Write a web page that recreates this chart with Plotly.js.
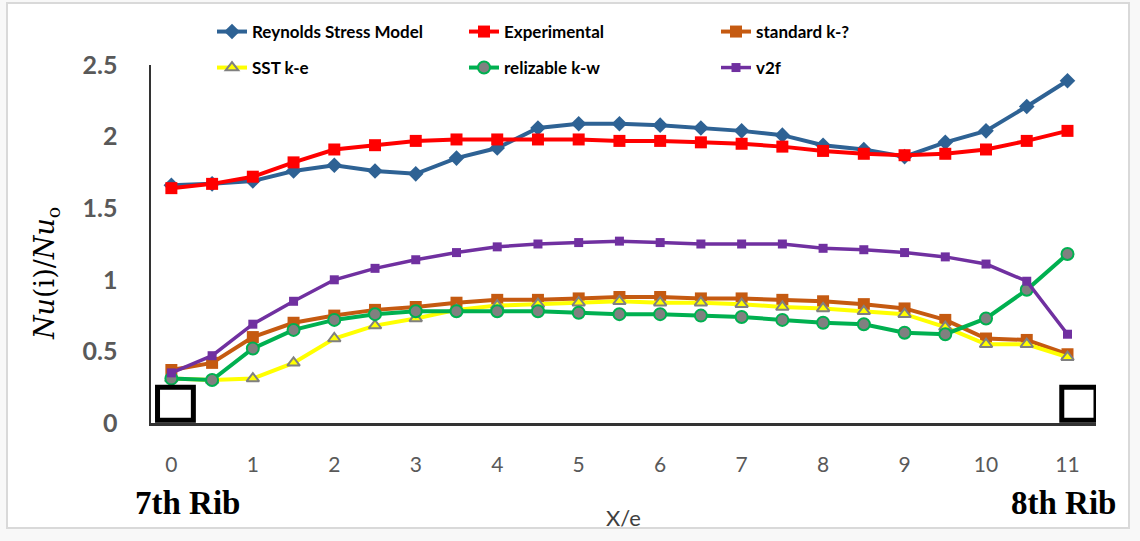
<!DOCTYPE html>
<html>
<head>
<meta charset="utf-8">
<script src="https://cdn.plot.ly/plotly-3.0.1.min.js"></script>
<style>
  html, body { margin:0; padding:0; background:#f8f8f8; }
  #frame { position:absolute; left:6px; top:2px; width:1120px; height:523px; border:2px solid #d9d9d9; background:#ffffff; }
  #plot { position:absolute; left:0; top:0; width:1140px; height:541px; }
</style>
</head>
<body>
<div id="frame"></div>
<div id="plot"></div>
<script>
// X/e positions
const xe = [0,0.5,1,1.5,2,2.5,3,3.5,4,4.5,5,5.5,6,6.5,7,7.5,8,8.5,9,9.5,10,10.5,11];
const xTicks = [0,1,2,3,4,5,6,7,8,9,10,11];
const yTicks = [0,0.5,1,1.5,2,2.5];

const seriesNames = ['Reynolds Stress Model','Experimental','standard k-?','SST k-e','relizable k-w','v2f'];

const rsm = [1.66,1.67,1.69,1.76,1.80,1.76,1.74,1.85,1.92,2.06,2.09,2.09,2.08,2.06,2.04,2.01,1.94,1.91,1.86,1.96,2.04,2.21,2.39];
const experimental = [1.64,1.67,1.72,1.82,1.91,1.94,1.97,1.98,1.98,1.98,1.98,1.97,1.97,1.96,1.95,1.93,1.90,1.88,1.87,1.88,1.91,1.97,2.04];
const standardK = [0.37,0.42,0.60,0.70,0.75,0.79,0.81,0.84,0.86,0.86,0.87,0.88,0.88,0.87,0.87,0.86,0.85,0.83,0.80,0.72,0.59,0.58,0.48];
const sstKe = [0.31,0.30,0.31,0.42,0.59,0.68,0.73,0.79,0.82,0.83,0.84,0.85,0.84,0.84,0.83,0.81,0.80,0.78,0.76,0.67,0.55,0.55,0.46];
const relizableKw = [0.31,0.30,0.52,0.65,0.72,0.76,0.78,0.78,0.78,0.78,0.77,0.76,0.76,0.75,0.74,0.72,0.70,0.69,0.63,0.62,0.73,0.93,1.18];
const v2f = [0.35,0.47,0.69,0.85,1.00,1.08,1.14,1.19,1.23,1.25,1.26,1.27,1.26,1.25,1.25,1.25,1.22,1.21,1.19,1.16,1.11,0.99,0.62];

const traces = [
  {x: xe, y: rsm, name: seriesNames[0], mode:'lines+markers', legend:'legend',
   line:{color:'#2E6294', width:4}, marker:{symbol:'diamond', size:12, color:'#2E6294'}},
  {x: xe, y: experimental, name: seriesNames[1], mode:'lines+markers', legend:'legend',
   line:{color:'#FF0000', width:4}, marker:{symbol:'square', size:12, color:'#FF0000'}},
  {x: xe, y: standardK, name: seriesNames[2], mode:'lines+markers', legend:'legend',
   line:{color:'#C55A11', width:4}, marker:{symbol:'square', size:12, color:'#C55A11'}},
  {x: xe, y: sstKe, name: seriesNames[3], mode:'lines+markers', legend:'legend2',
   line:{color:'#FFFF00', width:4}, marker:{symbol:'triangle-up', size:11, color:'#FFFF00', line:{color:'#808080', width:2}}},
  {x: xe, y: relizableKw, name: seriesNames[4], mode:'lines+markers', legend:'legend2',
   line:{color:'#00B050', width:4}, marker:{symbol:'circle', size:12, color:'#808080', line:{color:'#00B050', width:2}}},
  {x: xe, y: v2f, name: seriesNames[5], mode:'lines+markers', legend:'legend2',
   line:{color:'#7030A0', width:3.5}, marker:{symbol:'square', size:9, color:'#7030A0'}}
];

const legendCommon = {
  orientation:'h', xref:'container', yref:'container', xanchor:'left', yanchor:'top',
  entrywidth:207, entrywidthmode:'pixels', bgcolor:'rgba(0,0,0,0)',
  font:{family:'Lato, "Open Sans", sans-serif', size:17, color:'#000', weight:'bold'},
  traceorder:'normal'
};

// plot area: left 151, right 1096, top 65, bottom 423
const plotL = 151, plotW = 945, plotT = 65, plotH = 358;
const px2paperX = p => (p - plotL) / plotW;
const px2paperY = p => (plotT + plotH - p) / plotH;

const layout = {
  width:1140, height:541,
  paper_bgcolor:'rgba(0,0,0,0)', plot_bgcolor:'rgba(0,0,0,0)',
  margin:{l:151, r:44, t:65, b:118, autoexpand:false},
  showlegend:true,
  legend: Object.assign({}, legendCommon, {x:212/1140, y:1-14/541}),
  legend2: Object.assign({}, legendCommon, {x:212/1140, y:1-50/541}),
  xaxis:{
    range:[-0.25, 11.35], tickvals:xTicks, ticktext:xTicks.map(String),
    showgrid:false, zeroline:false, showline:true, linecolor:'#333', linewidth:2.5,
    ticks:'outside', ticklen:21, tickcolor:'rgba(0,0,0,0)',
    tickfont:{family:'Lato, "Open Sans", sans-serif', size:21, color:'#595959'},
    title:{text:'X/e', font:{family:'Lato, "Open Sans", sans-serif', size:22, color:'#404040'}, standoff:36}
  },
  yaxis:{
    range:[0, 2.5], tickvals:yTicks,
    showgrid:false, zeroline:false, showline:true, linecolor:'#333', linewidth:2.5,
    ticks:'outside', ticklen:26, tickcolor:'rgba(0,0,0,0)',
    tickfont:{family:'Lato, "Open Sans", sans-serif', size:25, color:'#595959', weight:'bold'}
  },
  shapes:[
    {type:'rect', xref:'x', yref:'y', x0:-0.17, x1:0.27, y0:0.02, y1:0.25, line:{color:'#000', width:5}, fillcolor:'#fff', layer:'above'},
    {type:'rect', xref:'x', yref:'y', x0:10.93, x1:11.35, y0:0.02, y1:0.25, line:{color:'#000', width:5}, fillcolor:'#fff', layer:'above'}
  ],
  annotations:[
    {text:'<i>Nu</i>(i)/<i>Nu</i><sub>o</sub>', xref:'paper', yref:'paper', x:px2paperX(46), y:px2paperY(274),
     textangle:-90, showarrow:false, xanchor:'center', yanchor:'middle',
     font:{family:'"DejaVu Serif", "Liberation Serif", serif', size:27, color:'#000'}},
    {text:'<b>7th Rib</b>', xref:'x', yref:'paper', x:0.2, y:px2paperY(503), showarrow:false,
     xanchor:'center', yanchor:'middle', font:{family:'"Liberation Serif", serif', size:33, color:'#000'}},
    {text:'<b>8th Rib</b>', xref:'x', yref:'paper', x:10.95, y:px2paperY(503), showarrow:false,
     xanchor:'center', yanchor:'middle', font:{family:'"Liberation Serif", serif', size:33, color:'#000'}}
  ]
};

Plotly.newPlot('plot', traces, layout, {displayModeBar:false, staticPlot:true});
</script>
</body>
</html>
